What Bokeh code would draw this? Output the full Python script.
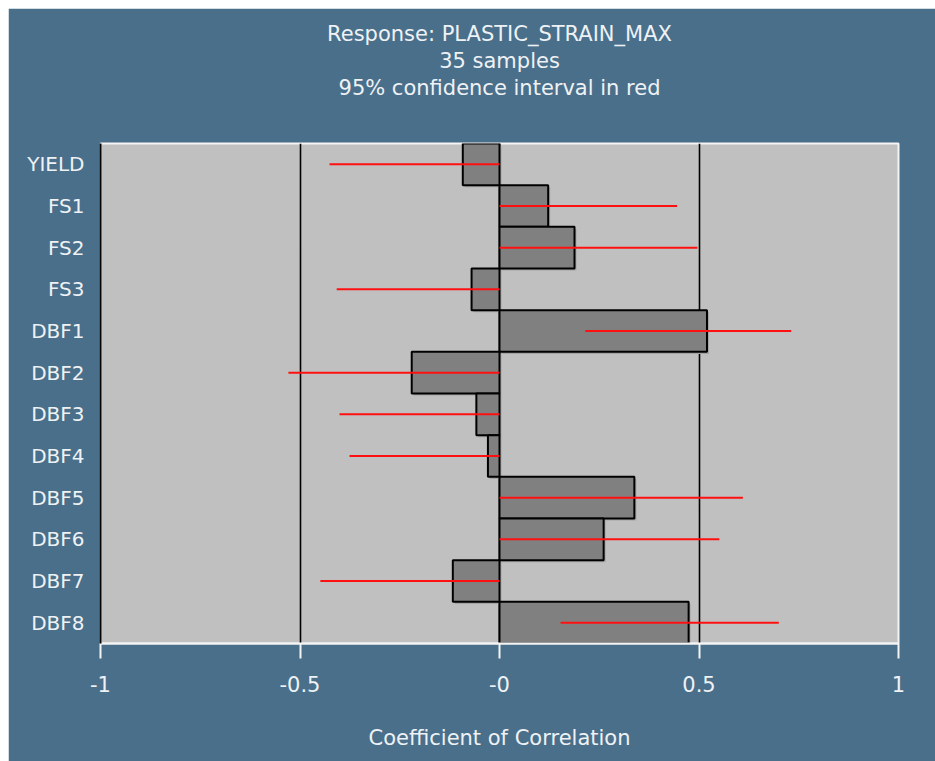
from bokeh.plotting import figure
from bokeh.models import FactorRange, Range1d, FixedTicker, Title, ColumnDataSource
from bokeh.transform import dodge
from bokeh.embed import file_html
from bokeh.resources import INLINE

categories = ["YIELD", "FS1", "FS2", "FS3", "DBF1", "DBF2", "DBF3", "DBF4",
              "DBF5", "DBF6", "DBF7", "DBF8"]
correlation = [-0.092, 0.122, 0.188, -0.070, 0.520, -0.220, -0.058, -0.029,
               0.338, 0.261, -0.117, 0.474]
ci_low = [-0.426, 0.0, 0.0, -0.408, 0.215, -0.529, -0.401, -0.376,
          0.0, 0.0, -0.449, 0.153]
ci_high = [0.0, 0.445, 0.496, 0.0, 0.731, 0.0, 0.0, 0.0,
           0.610, 0.551, 0.0, 0.700]
x_ticks = [-1, -0.5, 0, 0.5, 1]
x_tick_labels = ["-1", "-0.5", "-0", "0.5", "1"]
grid_ticks = [-0.5, 0, 0.5]
title_lines = ["Response: PLASTIC_STRAIN_MAX", "35 samples",
               "95% confidence interval in red"]
x_label = "Coefficient of Correlation"

BG = "#4a6f8b"
TXT = "#eef2f5"
FONT = "DejaVu Sans"

src = ColumnDataSource(dict(cat=categories, val=correlation, lo=ci_low, hi=ci_high,
                            zero=[0.0] * len(categories),
                            sh_l=[min(0.0, v) + 0.005 for v in correlation],
                            sh_r=[max(0.0, v) + 0.005 for v in correlation]))

p = figure(width=927, height=753, output_backend="svg", toolbar_location=None,
           y_range=FactorRange(factors=list(reversed(categories)), range_padding=0),
           x_range=Range1d(-1, 1),
           min_border_left=92, min_border_right=37, min_border_top=135,
           min_border_bottom=118)
p.margin = (8, 0, 0, 8)
p.border_fill_color = BG
p.background_fill_color = "#c0c0c0"
p.outline_line_color = "#f4f4f4"
p.outline_line_width = 2

# spacer title nearest the plot, then the three title lines
p.add_layout(Title(text=" ", text_font_size="37px", standoff=0,
                   text_color=BG), "above")
for line in reversed(title_lines):
    t = Title(text=line, align="center", text_color=TXT, text_font=FONT,
              text_font_size="21px", text_font_style="normal", standoff=1)
    p.add_layout(t, "above")

p.xgrid.ticker = FixedTicker(ticks=grid_ticks)
p.xgrid.grid_line_color = "black"
p.xgrid.grid_line_width = 1.6
p.ygrid.grid_line_color = None

# faint drop shadow of the bars
p.hbar(y=dodge("cat", -0.05, range=p.y_range), left="sh_l", right="sh_r",
       height=1.0, source=src, fill_color="#a4a4a4", line_color=None)
p.hbar(y="cat", left="zero", right="val", height=1.0, source=src,
       fill_color="#808080", line_color="black", line_width=2)
p.segment(x0="lo", y0="cat", x1="hi", y1="cat", source=src,
          line_color="#ff1010", line_width=2)

xa = p.xaxis[0]
xa.ticker = FixedTicker(ticks=x_ticks)
xa.major_label_overrides = {t: l for t, l in zip(x_ticks, x_tick_labels)}
xa.axis_line_color = "#f4f4f4"
xa.axis_line_width = 2
xa.major_tick_line_color = "#f4f4f4"
xa.major_tick_line_width = 2
xa.major_tick_out = 15
xa.major_tick_in = 0
xa.minor_tick_line_color = None
xa.major_label_text_color = TXT
xa.major_label_text_font = FONT
xa.major_label_text_font_size = "21px"
xa.major_label_standoff = 17
xa.axis_label = x_label
xa.axis_label_text_color = TXT
xa.axis_label_text_font = FONT
xa.axis_label_text_font_size = "21px"
xa.axis_label_text_font_style = "normal"
xa.axis_label_standoff = 31

ya = p.yaxis[0]
ya.axis_line_color = "black"
ya.axis_line_width = 2
ya.major_tick_line_color = None
ya.minor_tick_line_color = None
ya.major_tick_out = 0
ya.major_tick_in = 0
ya.major_label_text_color = TXT
ya.major_label_text_font = FONT
ya.major_label_text_font_size = "20px"
ya.major_label_standoff = 16

open("out.html", "w").write(file_html(p, INLINE))
